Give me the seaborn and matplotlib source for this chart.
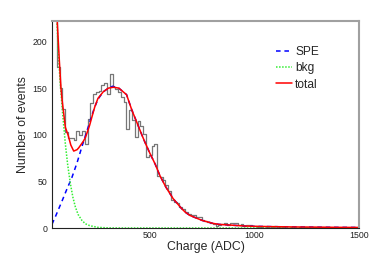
import numpy as np
import pandas as pd
import matplotlib
matplotlib.use("Agg")
import matplotlib.pyplot as plt
import seaborn as sns

# ---------- data ----------
bin_width = 40 / 3
bin_start = 80 / 3
counts = [300, 230, 173, 150, 128, 103, 97, 96, 94, 104,
          100, 104, 90, 117, 134, 144, 146, 147, 153, 155,
          144, 165, 151, 149, 146, 141, 135, 106, 127, 116,
          98, 115, 109, 101, 76, 78, 88, 90, 56, 55,
          51, 46, 40, 30, 28, 27, 22, 20, 17, 15,
          14, 14, 12, 12, 9, 8, 6, 5, 4, 2,
          3, 4, 5, 3, 5, 5, 5, 3, 4, 2,
          3, 3, 2, 2, 1, 1, 0, 1, 0, 1,
          2, 1, 0, 1, 0, 0, 1, 0, 0, 1,
          0, 1, 0, 0, 1, 0, 0, 1, 0, 0,
          0, 0, 0, 0, 0, 0, 0, 0, 0, 0,
          0]

# fit curves
spe_x = [30, 46, 80, 100, 125, 150, 173, 200, 221, 235, 250, 275, 300, 320,
         350, 387, 413, 435, 460, 475, 499, 525, 547, 575, 610, 650, 668,
         690, 748, 800, 830, 955, 1000, 1100, 1200, 1300, 1400, 1500]
spe_y = [4, 12, 30, 41, 54, 70, 87, 106, 121, 130, 138, 146, 150, 152,
         150, 143, 126, 114, 100, 92, 80, 68, 56, 44, 31.5, 21, 17,
         13.5, 8.2, 5, 3.9, 2.1, 1.8, 1.4, 1.1, 0.9, 0.7, 0.6]

bkg_x = [30, 40, 50, 60, 68, 80, 94, 105, 118, 130, 142, 155, 173, 190, 210,
         221, 250, 300, 350, 1500]
bkg_y = [330, 280, 240, 190, 160, 125, 90, 68, 47.5, 33, 22.5, 14.5, 8.2,
         4.5, 2.6, 2, 0.7, 0.1, 0, 0]

tot_x = [30, 40, 55, 65, 73, 78, 94, 108, 120, 134, 150, 158, 180, 190, 210,
         221, 235, 250, 275, 300, 325, 350, 387, 413, 435, 460, 475, 499, 508,
         525, 547, 575, 610, 650, 668, 690, 748, 800, 830, 955, 1000, 1100,
         1200, 1300, 1400, 1500]
tot_y = [330, 285, 222, 180, 150, 138, 108, 99, 89, 82.5, 84, 86, 93, 97, 110,
         119, 130, 139, 146, 150, 151, 150, 143, 126, 114, 100, 92, 80, 76,
         68, 56, 44, 31.5, 21, 17, 13.5, 8.2, 5, 3.9, 2.1, 1.8, 1.4,
         1.1, 0.9, 0.7, 0.6]

# ---------- plot ----------
sns.set_style("white")
plt.rcParams['font.family'] = ['Liberation Sans', 'DejaVu Sans']

n_bins = len(counts)
centers = bin_start + bin_width * (np.arange(n_bins) + 0.5)
hist_df = pd.DataFrame({'charge': centers, 'n': counts})

fig = plt.figure(figsize=(3.74, 2.68), dpi=100)
ax = fig.add_axes([52 / 374, 40 / 268, 307 / 374, 207 / 268])

sns.histplot(data=hist_df, x='charge', weights='n', binwidth=bin_width,
             binrange=(bin_start, bin_start + bin_width * n_bins),
             element='step', fill=False, color='#777777', linewidth=0.9, ax=ax)
sns.lineplot(x=spe_x, y=spe_y, color='#0000ff', linestyle=(0, (3, 2.5)),
             linewidth=1.1, ax=ax, label='SPE')
sns.lineplot(x=bkg_x, y=bkg_y, color='#33ee33', linestyle=(0, (1, 1)),
             linewidth=1.1, ax=ax, label='bkg')
sns.lineplot(x=tot_x, y=tot_y, color='#ff0000', linewidth=1.1, ax=ax,
             label='total')

ax.set_xlim(30, 1500)
ax.set_ylim(0, 222)
ax.set_xticks([500, 1000, 1500])
ax.set_yticks([0, 50, 100, 150, 200])
ax.tick_params(direction='in', length=6, width=0.8, labelsize=6.3, colors='#222222')
ax.tick_params(axis='x', pad=2)
ax.set_xlabel('Charge (ADC)', fontsize=8.8, labelpad=1)
ax.set_ylabel('Number of events', fontsize=8.8, labelpad=2.5)

for side in ['left', 'bottom']:
    ax.spines[side].set_color('#222222')
    ax.spines[side].set_linewidth(0.8)
for side in ['top', 'right']:
    ax.spines[side].set_color('#a0a0a0')
    ax.spines[side].set_linewidth(1.5)

ax.legend(loc='upper left', bbox_to_anchor=(0.73, 0.878), frameon=False,
          fontsize=8.6, handlelength=1.35, handletextpad=0.25,
          labelspacing=0.35, borderpad=0, borderaxespad=0)

fig.savefig('out.png', dpi=100)
